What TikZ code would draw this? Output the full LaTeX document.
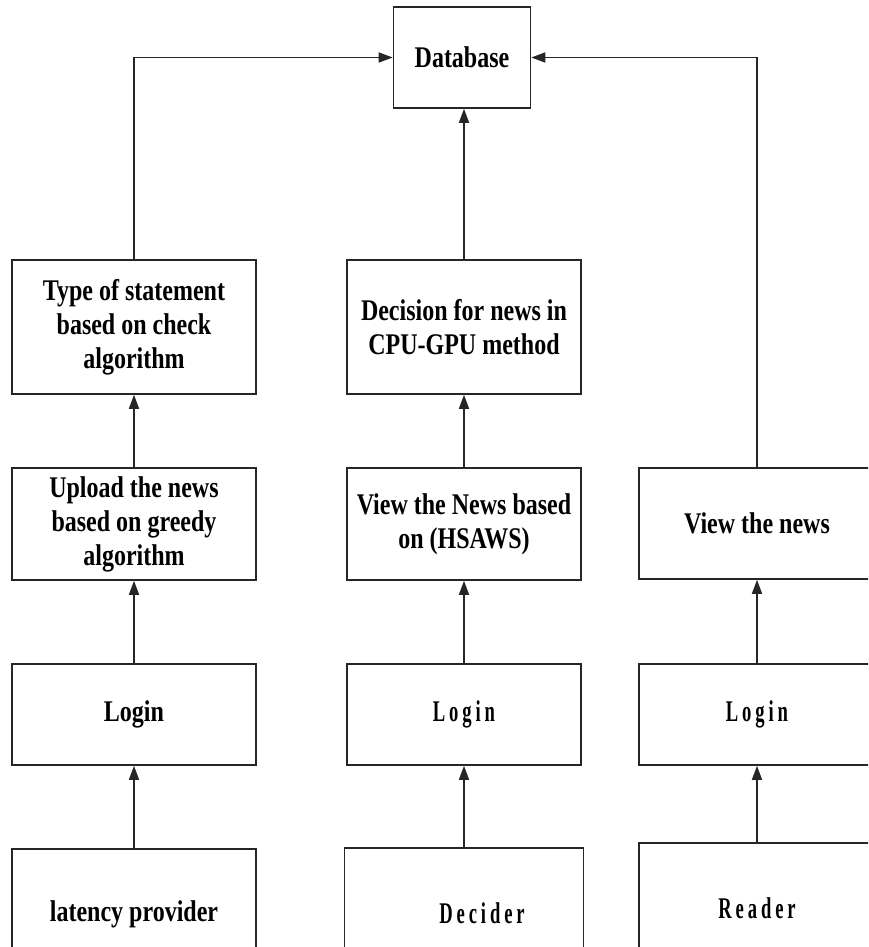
\documentclass[tikz,border=0pt]{standalone}
\usepackage{fontspec}
\setmainfont{Liberation Serif}
\newfontfamily\boxfont[FakeStretch=0.8]{Liberation Serif}
\newfontfamily\spacedfont[FakeStretch=0.62,LetterSpace=13]{Liberation Serif}
\usetikzlibrary{arrows.meta}
\begin{document}
\begin{tikzpicture}[x=1pt,y=-1pt,
  box/.style={draw=black!85, line width=1.6pt, inner sep=0pt, align=center,
    font=\boxfont\bfseries\fontsize{30}{34}\selectfont},
  spaced/.style={font=\spacedfont\bfseries\fontsize{30}{34}\selectfont},
  flow/.style={draw=black!85, line width=1.6pt, -{Triangle[length=14pt,width=10pt]}}]
\useasboundingbox (0,0) rectangle (868,947);
\clip (0,0) rectangle (868,947);

% top store
\node[box, minimum width=137pt, minimum height=101pt] (db) at (462,57.5) {Database};

% left column: provider
\node[box, minimum width=244pt, minimum height=134pt] (type) at (134,327) {Type of statement\\based on check\\algorithm};
\node[box, minimum width=244pt, minimum height=112pt] (upload) at (134,524) {Upload the news\\based on greedy\\algorithm};
\node[box, minimum width=244pt, minimum height=101pt] (loginA) at (134,714.5) {Login};
\node[box, minimum width=244pt, minimum height=130pt] (provider) at (134,914) {latency provider};

% middle column: decider
\node[box, minimum width=234pt, minimum height=134pt] (decision) at (464,327) {Decision for news in\\CPU-GPU method};
\node[box, minimum width=234pt, minimum height=112pt] (hsaws) at (464,524) {View the News based\\on (HSAWS)};
\node[box, spaced, minimum width=234pt, minimum height=101pt] (loginB) at (464,714.5) {Login};
\node[box, spaced, minimum width=239pt, minimum height=130pt] (decider) at (464,913) {\hspace*{36pt}Decider};

% right column: reader
\node[box, minimum width=236pt, minimum height=111pt] (viewnews) at (757,523.5) {View the news};
\node[box, spaced, minimum width=236pt, minimum height=101pt] (loginC) at (757,714.5) {Login};
\node[box, spaced, minimum width=236pt, minimum height=130pt] (reader) at (757,908) {Reader};

% connectors
\draw[flow] (provider) -- (loginA);
\draw[flow] (loginA) -- (upload);
\draw[flow] (upload) -- (type);
\draw[flow] (type.north) |- (db.west);

\draw[flow] (decider) -- (loginB);
\draw[flow] (loginB) -- (hsaws);
\draw[flow] (hsaws) -- (decision);
\draw[flow] (decision.north) -- (decision.north |- db.south);

\draw[flow] (reader) -- (loginC);
\draw[flow] (loginC) -- (viewnews);
\draw[flow] (viewnews.north) |- (db.east);
\end{tikzpicture}
\end{document}
